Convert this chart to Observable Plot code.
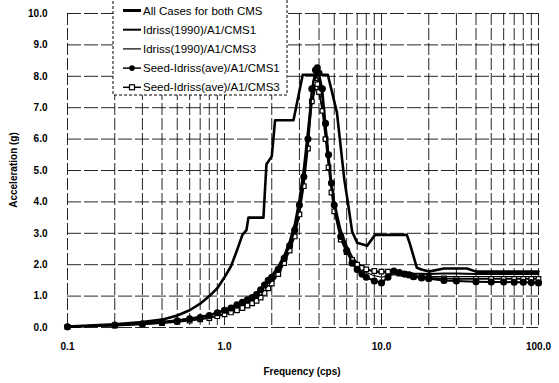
<!DOCTYPE html>
<html><head><meta charset="utf-8">
<script src="https://cdn.jsdelivr.net/npm/d3@7"></script>
<script src="https://cdn.jsdelivr.net/npm/@observablehq/plot@0.6"></script>
<style>body{margin:0;background:#fff} svg{display:block}</style>
</head><body><div id="chart"></div>
<script>
// ---- data ----
const envFreq = [0.1,0.2,0.3,0.4,0.5,0.6,0.7,0.8,0.9,1.0,1.1,1.2,1.3,1.38,1.42,1.77,1.85,2.0,2.1,2.75,3.15,4.55,5.2,5.8,6.1,6.5,7.0,8.1,9.1,14.5,15.2,16.8,18,20,25,35,40,100];
const envAcc  = [0.03,0.1,0.17,0.25,0.38,0.55,0.76,1.0,1.25,1.6,1.95,2.45,2.95,3.1,3.5,3.5,5.2,5.45,6.6,6.6,8.05,8.05,6.85,4.7,4.0,3.06,2.7,2.6,2.95,2.95,2.65,1.9,1.85,1.78,1.88,1.88,1.78,1.78];

const idrFreq = [0.1,0.2,0.3,0.4,0.5,0.6,0.7,0.8,0.9,1.0,1.2,1.4,1.6,1.8,2.0,2.2,2.4,2.6,2.8,3.0,3.2,3.4,3.6,3.8,4.0,4.2,4.4,4.6,4.8,5.0,5.5,6.0,6.5,7.0,8.0,9.0,10,11,12,14,16,20,25,30,40,50,60,80,100];
const idrCMS1 = [0.02,0.08,0.13,0.18,0.23,0.29,0.34,0.4,0.48,0.56,0.74,0.92,1.1,1.4,1.65,1.95,2.3,2.75,3.3,4.1,5.1,6.3,7.5,8.0,7.9,7.3,6.4,5.4,4.6,4.0,3.1,2.6,2.25,2.05,1.85,1.78,1.75,1.78,1.8,1.76,1.72,1.7,1.72,1.72,1.7,1.7,1.7,1.7,1.7];
const idrCMS3 = [0.02,0.07,0.11,0.15,0.19,0.23,0.28,0.32,0.38,0.45,0.58,0.74,0.9,1.15,1.45,1.75,2.1,2.5,3.0,3.7,4.7,5.9,7.1,7.6,7.5,7.0,6.2,5.3,4.5,3.9,3.0,2.5,2.15,1.95,1.75,1.65,1.6,1.65,1.7,1.68,1.65,1.62,1.62,1.62,1.62,1.62,1.62,1.62,1.62];

const seedFreq = [0.1,0.2,0.3,0.4,0.5,0.6,0.7,0.8,0.9,1.0,1.1,1.2,1.3,1.4,1.5,1.6,1.7,1.8,1.9,2.0,2.2,2.4,2.6,2.8,3.0,3.2,3.4,3.6,3.8,3.9,4.0,4.2,4.4,4.6,4.8,5.0,5.5,6.0,6.5,7.0,7.5,8.0,9.0,10,11,12,13,14,15,16,18,20,25,30,40,50,60,70,80,90,100];
const seedCMS1 = [0.02,0.08,0.12,0.17,0.21,0.28,0.32,0.38,0.47,0.55,0.62,0.72,0.8,0.88,0.95,1.05,1.2,1.35,1.5,1.6,1.85,2.2,2.6,3.1,3.9,4.8,6.0,7.6,8.2,8.27,8.1,7.6,6.5,5.5,4.6,3.9,2.9,2.45,2.05,1.85,1.7,1.6,1.48,1.42,1.6,1.8,1.75,1.7,1.68,1.62,1.58,1.55,1.5,1.48,1.46,1.45,1.45,1.44,1.44,1.43,1.42];
const seedCMS3 = [0.02,0.06,0.1,0.14,0.18,0.22,0.26,0.3,0.36,0.42,0.48,0.55,0.62,0.7,0.77,0.85,0.95,1.1,1.25,1.4,1.7,2.05,2.45,2.9,3.6,4.5,5.7,7.2,7.8,7.75,7.5,6.9,6.0,5.1,4.3,3.7,2.8,2.4,2.15,2.0,1.9,1.85,1.8,1.78,1.78,1.75,1.72,1.7,1.66,1.62,1.6,1.58,1.56,1.55,1.55,1.55,1.55,1.55,1.55,1.55,1.55];

const xTicks = [0.1, 1, 10, 100];
const yTicks = [0,1,2,3,4,5,6,7,8,9,10];
const xGrid = [0.1,0.2,0.3,0.4,0.5,0.6,0.7,0.8,0.9,1,2,3,4,5,6,7,8,9,10,20,30,40,50,60,70,80,90,100];

const xTitle = "Frequency (cps)";
const yTitle = "Acceleration (g)";
const legendLabels = ["All Cases for both CMS","Idriss(1990)/A1/CMS1","Idriss(1990)/A1/CMS3","Seed-Idriss(ave)/A1/CMS1","Seed-Idriss(ave)/A1/CMS3"];

// ---- tidy rows ----
const env = envFreq.map((f,i)=>({f, a: envAcc[i]}));
const i1 = idrFreq.map((f,i)=>({f, a: idrCMS1[i]}));
const i3 = idrFreq.map((f,i)=>({f, a: idrCMS3[i]}));
const s1 = seedFreq.map((f,i)=>({f, a: seedCMS1[i]}));
const s3 = seedFreq.map((f,i)=>({f, a: seedCMS3[i]}));

const fmt = d3.format(".1f");
const font = "'Liberation Sans', Arial, sans-serif";

const plot = Plot.plot({
  width: 559, height: 383,
  marginLeft: 67, marginRight: 21, marginTop: 13, marginBottom: 56,
  style: {fontFamily: font, fontSize: "10px", fontWeight: "bold", background: "#fff", color: "#000"},
  x: {type: "log", domain: [0.1, 100]},
  y: {domain: [0, 10]},
  marks: [
    Plot.ruleX(xGrid, {stroke: "#000", strokeWidth: 1, strokeDasharray: "12,3", strokeOpacity: 0.85}),
    Plot.ruleY(yTicks, {stroke: "#000", strokeWidth: 1, strokeDasharray: "14,3", strokeOpacity: 0.85}),
    Plot.axisX({ticks: xTicks, tickFormat: fmt, tickSize: 0, tickPadding: 15, label: null, fontWeight: "bold"}),
    Plot.axisY({ticks: yTicks, tickFormat: fmt, tickSize: 0, tickPadding: 20, label: null, fontWeight: "bold"}),
    Plot.line(i3, {x: "f", y: "a", stroke: "#000", strokeWidth: 1.2}),
    Plot.line(i1, {x: "f", y: "a", stroke: "#000", strokeWidth: 2}),
    Plot.line(s3, {x: "f", y: "a", stroke: "#000", strokeWidth: 1.6}),
    Plot.dot(s3, {x: "f", y: "a", symbol: "square", r: 2.6, fill: "#fff", stroke: "#000", strokeWidth: 1.2}),
    Plot.line(s1, {x: "f", y: "a", stroke: "#000", strokeWidth: 2}),
    Plot.dot(s1, {x: "f", y: "a", symbol: "circle", r: 2.8, fill: "#000", stroke: "#000"}),
    Plot.line(env, {x: "f", y: "a", stroke: "#000", strokeWidth: 2.6})
  ]
});
document.getElementById("chart").append(plot);

const svg = d3.select(plot);
// axis titles
svg.append("text").attr("x", 302).attr("y", 375).attr("text-anchor", "middle")
  .attr("font-family", font).attr("font-size", "10px").attr("font-weight", "bold").attr("fill", "#000").text(xTitle);
svg.append("text").attr("transform", "translate(17,170) rotate(-90)").attr("text-anchor", "middle")
  .attr("font-family", font).attr("font-size", "10px").attr("font-weight", "bold").attr("fill", "#000").text(yTitle);

// ---- legend (inside plot, top-left) ----
const lg = svg.append("g").attr("font-family", font).attr("font-size", "11.5px").attr("font-weight", "normal").attr("text-anchor", "start");
lg.append("rect").attr("x", 113).attr("y", -1).attr("width", 174).attr("height", 96)
  .attr("fill", "#fff").attr("stroke", "#000").attr("stroke-width", 1).attr("stroke-dasharray", "3,2");
const widths = [3, 2, 1.2, 1.5, 1.5];
legendLabels.forEach((lab, i) => {
  const yy = 10.5 + i * 19.2;
  lg.append("line").attr("x1", 123).attr("x2", 141).attr("y1", yy).attr("y2", yy)
    .attr("stroke", "#000").attr("stroke-width", widths[i]);
  if (i === 3) lg.append("circle").attr("cx", 132).attr("cy", yy).attr("r", 2.8).attr("fill", "#000");
  if (i === 4) lg.append("rect").attr("x", 129.5).attr("y", yy - 2.5).attr("width", 5).attr("height", 5).attr("fill", "#fff").attr("stroke", "#000").attr("stroke-width", 1.2);
  lg.append("text").attr("x", 143).attr("y", yy).attr("dy", "0.35em").attr("fill", "#000").text(lab);
});
</script></body></html>
